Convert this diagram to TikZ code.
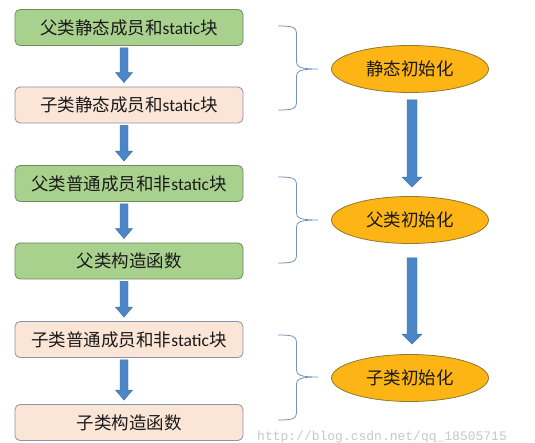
\documentclass[tikz,border=0pt]{standalone}
\usepackage{fontspec}
\setmainfont{Noto Sans CJK SC}
\newfontfamily\latinf{Carlito}
\newfontfamily\wmf{Liberation Mono}
\usetikzlibrary{calc,shapes.geometric}
\definecolor{boxgreen}{HTML}{A9D18E}
\definecolor{greenborder}{HTML}{6E8C5C}
\definecolor{boxpink}{HTML}{FBE5D6}
\definecolor{pinkborder}{HTML}{8A94A6}
\definecolor{ellfill}{HTML}{FDB515}
\definecolor{ellborder}{HTML}{8C7A30}
\definecolor{arrowblue}{HTML}{4A86C8}
\definecolor{arrowedge}{HTML}{41719C}
\definecolor{bracecol}{HTML}{7393BA}
\definecolor{wmgray}{HTML}{C8C8C8}
\definecolor{txt}{HTML}{1A1A1A}
\newcommand\st{{\latinf static}}
\newcommand\blockarrow[5]{%
  \path[fill=arrowblue, draw=arrowedge, line width=0.4pt] let \p1=(#1), \p2=(#2) in
    (\x1-#3pt,\y1) -- (\x1+#3pt,\y1) -- (\x1+#3pt,\y2+#5pt) -- (\x1+#4pt,\y2+#5pt)
    -- (\x1,\y2) -- (\x1-#4pt,\y2+#5pt) -- (\x1-#3pt,\y2+#5pt) -- cycle;}
\newcommand\phasebrace[3]{%
  \draw[bracestyle] (278,#1) .. controls (292,#1) and (296.5,#1+1) .. (296.5,#1+7)
    -- (296.5,#2-7) .. controls (296.5,#2-2) and (300,#2) .. (318,#2)
    .. controls (300,#2) and (296.5,#2+2) .. (296.5,#2+7)
    -- (296.5,#3-7) .. controls (296.5,#3-1) and (292,#3) .. (278,#3);}
\begin{document}
\begin{tikzpicture}[x=1pt,y=-1pt,
  stepbox/.style={rectangle, rounded corners=5pt, minimum width=228pt, minimum height=36pt,
    inner sep=0pt, line width=0.8pt, text=txt, font=\fontsize{17.5}{20}\selectfont},
  greenbox/.style={stepbox, fill=boxgreen, draw=greenborder},
  pinkbox/.style={stepbox, fill=boxpink, draw=pinkborder},
  phase/.style={ellipse, minimum width=157pt, minimum height=47pt, inner sep=0pt,
    fill=ellfill, draw=ellborder, line width=0.8pt, text=txt, font=\fontsize{17.5}{20}\selectfont},
  bracestyle/.style={draw=bracecol, line width=0.8pt}]
\useasboundingbox (0,0) rectangle (535,443);
\fill[white] (0,0) rectangle (535,443);

\node[greenbox] (b1) at (129,27.5) {父类静态成员和\st 块};
\node[pinkbox]  (b2) at (129,105)  {子类静态成员和\st 块};
\node[greenbox] (b3) at (129,183.5) {父类普通成员和非\st 块};
\node[greenbox] (b4) at (129,261)  {父类构造函数};
\node[pinkbox]  (b5) at (129,339.5) {子类普通成员和非\st 块};
\node[pinkbox]  (b6) at (129,422.5) {子类构造函数};

\node[phase] (e1) at (410,69)  {静态初始化};
\node[phase] (e2) at (410,220) {父类初始化};
\node[phase] (e3) at (410,378) {子类初始化};

\blockarrow{$(b1.south)+(-5,2)$}{$(b2.north)+(-5,-4)$}{4}{8.5}{10}
\blockarrow{$(b2.south)+(-5,2)$}{$(b3.north)+(-5,-4)$}{4}{8.5}{10}
\blockarrow{$(b3.south)+(-5,2)$}{$(b4.north)+(-5,-4)$}{4}{8.5}{10}
\blockarrow{$(b4.south)+(-5,2)$}{$(b5.north)+(-5,-4)$}{4}{8.5}{10}
\blockarrow{$(b5.south)+(-5,2)$}{$(b6.north)+(-5,-4)$}{4}{8.5}{10}

\blockarrow{$(e1.south)+(2,7)$}{$(e2.north)+(2,-9)$}{5}{10}{10}
\blockarrow{$(e2.south)+(2,14)$}{$(e3.north)+(2,-10)$}{5}{10}{10}

\phasebrace{26}{69}{110}
\phasebrace{177}{220}{263}
\phasebrace{335}{377}{420}

\node[anchor=base west, inner sep=0pt, text=wmgray, font=\wmf\fontsize{13}{14}\selectfont]
  (wm) at (257,440) {http://blog.csdn.net/qq\_18505715};
\end{tikzpicture}
\end{document}
